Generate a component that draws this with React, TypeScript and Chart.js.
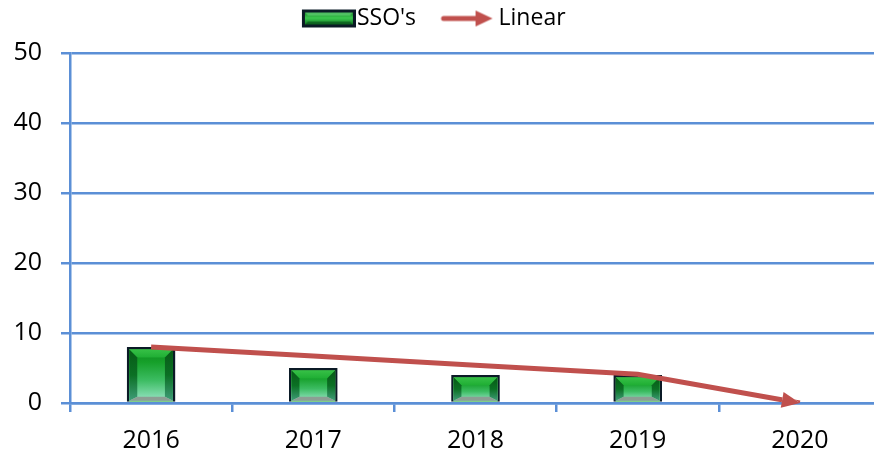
import React, { useEffect, useRef } from "react";
import { Chart, registerables } from "chart.js";

Chart.register(...registerables);

const categories = ["2016", "2017", "2018", "2019", "2020"];
const ssoValues: (number | null)[] = [8, 5, 4, 4, null];
const linearValues = [8, 6.7, 5.4, 4.1, 0];
const yMin = 0;
const yMax = 50;
const yStep = 10;

const BLUE = "#5b8fd6";
const RED = "#c0504d";
const DARK = "#0b1a26";
const FONT = "'Open Sans', 'DejaVu Sans', sans-serif";

function makeBarIcon(): HTMLCanvasElement {
  const c = document.createElement("canvas");
  c.width = 77;
  c.height = 20;
  const g = c.getContext("2d")!;
  const x0 = 23, y0 = 1, w = 54, h = 18;
  g.fillStyle = DARK;
  g.fillRect(x0, y0, w, h);
  const l = x0 + 3, t = y0 + 3, r = x0 + w - 3, b = y0 + h - 3;
  const grad = g.createLinearGradient(0, t, 0, b);
  grad.addColorStop(0, "#1a8a2a");
  grad.addColorStop(0.45, "#3cc850");
  grad.addColorStop(1, "#137f24");
  g.fillStyle = grad;
  g.fillRect(l, t, r - l, b - t);
  const bev = 3;
  g.fillStyle = "rgba(110,215,130,0.6)";
  g.beginPath();
  g.moveTo(l, t); g.lineTo(r, t); g.lineTo(r - bev, t + bev); g.lineTo(l + bev, t + bev); g.closePath();
  g.fill();
  g.fillStyle = "rgba(0,60,20,0.5)";
  g.beginPath();
  g.moveTo(l, b); g.lineTo(r, b); g.lineTo(r - bev, b - bev); g.lineTo(l + bev, b - bev); g.closePath();
  g.fill();
  return c;
}

function makeArrowIcon(): HTMLCanvasElement {
  const c = document.createElement("canvas");
  c.width = 77;
  c.height = 20;
  const g = c.getContext("2d")!;
  const cy = 10;
  g.strokeStyle = RED;
  g.lineWidth = 5;
  g.lineCap = "round";
  g.beginPath();
  g.moveTo(23, cy);
  g.lineTo(58, cy);
  g.stroke();
  g.fillStyle = RED;
  g.beginPath();
  g.moveTo(72, cy);
  g.lineTo(55, cy - 8);
  g.lineTo(55, cy + 8);
  g.closePath();
  g.fill();
  return c;
}

const ARROW_LEN = 18;
const ARROW_HALF = 8;

function arrowPath(ctx: CanvasRenderingContext2D, p1: any, p2: any) {
  const ang = Math.atan2(p2.y - p1.y, p2.x - p1.x);
  const cos = Math.cos(ang), sin = Math.sin(ang);
  const bx = p2.x - ARROW_LEN * cos, by = p2.y - ARROW_LEN * sin;
  ctx.moveTo(p2.x, p2.y);
  ctx.lineTo(bx - ARROW_HALF * sin, by + ARROW_HALF * cos);
  ctx.lineTo(bx + ARROW_HALF * sin, by - ARROW_HALF * cos);
  ctx.closePath();
}

const arrowPlugin = {
  id: "arrowHead",
  beforeDatasetDraw(chart: any, args: any) {
    if (args.index !== 1) return;
    const pts = args.meta.data;
    const p1 = pts[pts.length - 2], p2 = pts[pts.length - 1];
    const ctx = chart.ctx;
    ctx.save();
    ctx.beginPath();
    ctx.rect(0, 0, chart.width, chart.height);
    arrowPath(ctx, p1, p2);
    ctx.clip("evenodd");
  },
  afterDatasetDraw(chart: any, args: any) {
    if (args.index !== 1) return;
    const ctx = chart.ctx;
    ctx.restore();
    const pts = args.meta.data;
    const p1 = pts[pts.length - 2], p2 = pts[pts.length - 1];
    ctx.save();
    ctx.fillStyle = RED;
    ctx.beginPath();
    arrowPath(ctx, p1, p2);
    ctx.fill();
    ctx.restore();
  },
};

const legendShiftPlugin = {
  id: "legendShift",
  afterLayout(chart: any) {
    const lg = chart.legend;
    if (!lg) return;
    lg.left -= 13;
    lg.right -= 13;
  },
};

const bevelPlugin = {
  id: "barBevel",
  afterDatasetDraw(chart: any, args: any) {
    if (args.index !== 0) return;
    const ctx: CanvasRenderingContext2D = chart.ctx;
    args.meta.data.forEach((el: any) => {
      const { x, y, base, width } = el.getProps(["x", "y", "base", "width"], true);
      if (!isFinite(y) || Math.abs(base - y) < 2) return;
      const bw = 2.5;
      const l = x - width / 2 + bw, r = x + width / 2 - bw, t = y + bw, b = base - 1;
      const bev = Math.min(8, (r - l) / 4, (b - t) / 3);
      const bbev = Math.min(4, bev);
      ctx.save();
      const cg = ctx.createLinearGradient(0, t, 0, b);
      cg.addColorStop(0, "#0e8a20");
      cg.addColorStop(0.25, "#16a02a");
      cg.addColorStop(0.6, "#3cbc62");
      cg.addColorStop(1, "#96e4c4");
      ctx.fillStyle = cg;
      ctx.fillRect(l, t, r - l, b - t);
      const tg = ctx.createLinearGradient(0, t, 0, t + bev);
      tg.addColorStop(0, "#36c046");
      tg.addColorStop(1, "#1fae34");
      ctx.fillStyle = tg;
      ctx.beginPath();
      ctx.moveTo(l, t); ctx.lineTo(r, t); ctx.lineTo(r - bev, t + bev); ctx.lineTo(l + bev, t + bev); ctx.closePath();
      ctx.fill();
      const sg = ctx.createLinearGradient(0, t, 0, b);
      sg.addColorStop(0, "#075a16");
      sg.addColorStop(0.5, "#0b7024");
      sg.addColorStop(1, "#3f9c78");
      ctx.fillStyle = sg;
      ctx.beginPath();
      ctx.moveTo(l, t); ctx.lineTo(l + bev, t + bev); ctx.lineTo(l + bev, b - bbev); ctx.lineTo(l, b); ctx.closePath();
      ctx.fill();
      ctx.beginPath();
      ctx.moveTo(r, t); ctx.lineTo(r - bev, t + bev); ctx.lineTo(r - bev, b - bbev); ctx.lineTo(r, b); ctx.closePath();
      ctx.fill();
      ctx.fillStyle = "#8c9e94";
      ctx.beginPath();
      ctx.moveTo(l, b); ctx.lineTo(l + bev, b - bbev); ctx.lineTo(r - bev, b - bbev); ctx.lineTo(r, b); ctx.closePath();
      ctx.fill();
      ctx.restore();
    });
  },
};

export default function App() {
  const ref = useRef<HTMLCanvasElement | null>(null);

  useEffect(() => {
    document.body.style.margin = "0";
    document.body.style.overflow = "hidden";
    const canvas = ref.current;
    if (!canvas) return;
    const barIcon = makeBarIcon();
    const arrowIcon = makeArrowIcon();
    const chart = new Chart(canvas, {
      type: "bar",
      data: {
        labels: categories,
        datasets: [
          {
            type: "bar",
            label: "SSO's",
            data: ssoValues,
            backgroundColor: "#1fa82e",
            borderColor: DARK,
            borderWidth: { top: 2.5, left: 2.5, right: 2.5, bottom: 0 },
            borderSkipped: false,
            barPercentage: 0.6,
            categoryPercentage: 0.5,
            order: 2,
          } as any,
          {
            type: "line",
            label: "Linear",
            data: linearValues,
            borderColor: RED,
            borderWidth: 5,
            borderCapStyle: "butt",
            pointRadius: 0,
            tension: 0,
            fill: false,
            order: 1,
          } as any,
        ],
      },
      options: {
        responsive: false,
        animation: false,
        layout: { padding: { top: -8, right: 1, left: 0, bottom: 0 } },
        plugins: {
          tooltip: { enabled: false },
          title: {
            display: true,
            text: " ",
            weight: 500,
            font: { size: 1, lineHeight: 1 },
            padding: { top: 0, bottom: 12 },
          } as any,
          legend: {
            position: "top",
            labels: {
              usePointStyle: true,
              pointStyleWidth: 56,
              padding: 15,
              color: "#000",
              font: { family: FONT, size: 23 },
              generateLabels: () => [
                { text: "SSO's", pointStyle: barIcon, fillStyle: "transparent", strokeStyle: "transparent", lineWidth: 0, datasetIndex: 0, hidden: false } as any,
                { text: "Linear", pointStyle: arrowIcon, fillStyle: "transparent", strokeStyle: "transparent", lineWidth: 0, datasetIndex: 1, hidden: false } as any,
              ],
            },
          },
        },
        scales: {
          x: {
            offset: true,
            grid: {
              display: true,
              offset: true,
              drawOnChartArea: false,
              drawTicks: true,
              tickLength: 9,
              color: BLUE,
              lineWidth: 2.5,
            },
            border: { display: true, color: BLUE, width: 2.5 },
            ticks: { color: "#000", font: { family: FONT, size: 25 }, padding: 14 },
            afterFit: (s: any) => { s.height = 52; },
          },
          y: {
            min: yMin,
            max: yMax,
            ticks: { stepSize: yStep, color: "#000", font: { family: FONT, size: 25 }, padding: 19 },
            grid: { color: BLUE, lineWidth: 2.5, drawTicks: true, tickLength: 9 },
            border: { display: true, color: BLUE, width: 2.5 },
            afterFit: (s: any) => { s.width = 70; },
          },
        },
      },
      plugins: [bevelPlugin, arrowPlugin, legendShiftPlugin],
    });
    return () => chart.destroy();
  }, []);

  return (
    <div style={{ width: 874, height: 455, overflow: "hidden", background: "#fff" }}>
      <canvas ref={ref} width={882} height={455} style={{ display: "block" }} />
    </div>
  );
}
